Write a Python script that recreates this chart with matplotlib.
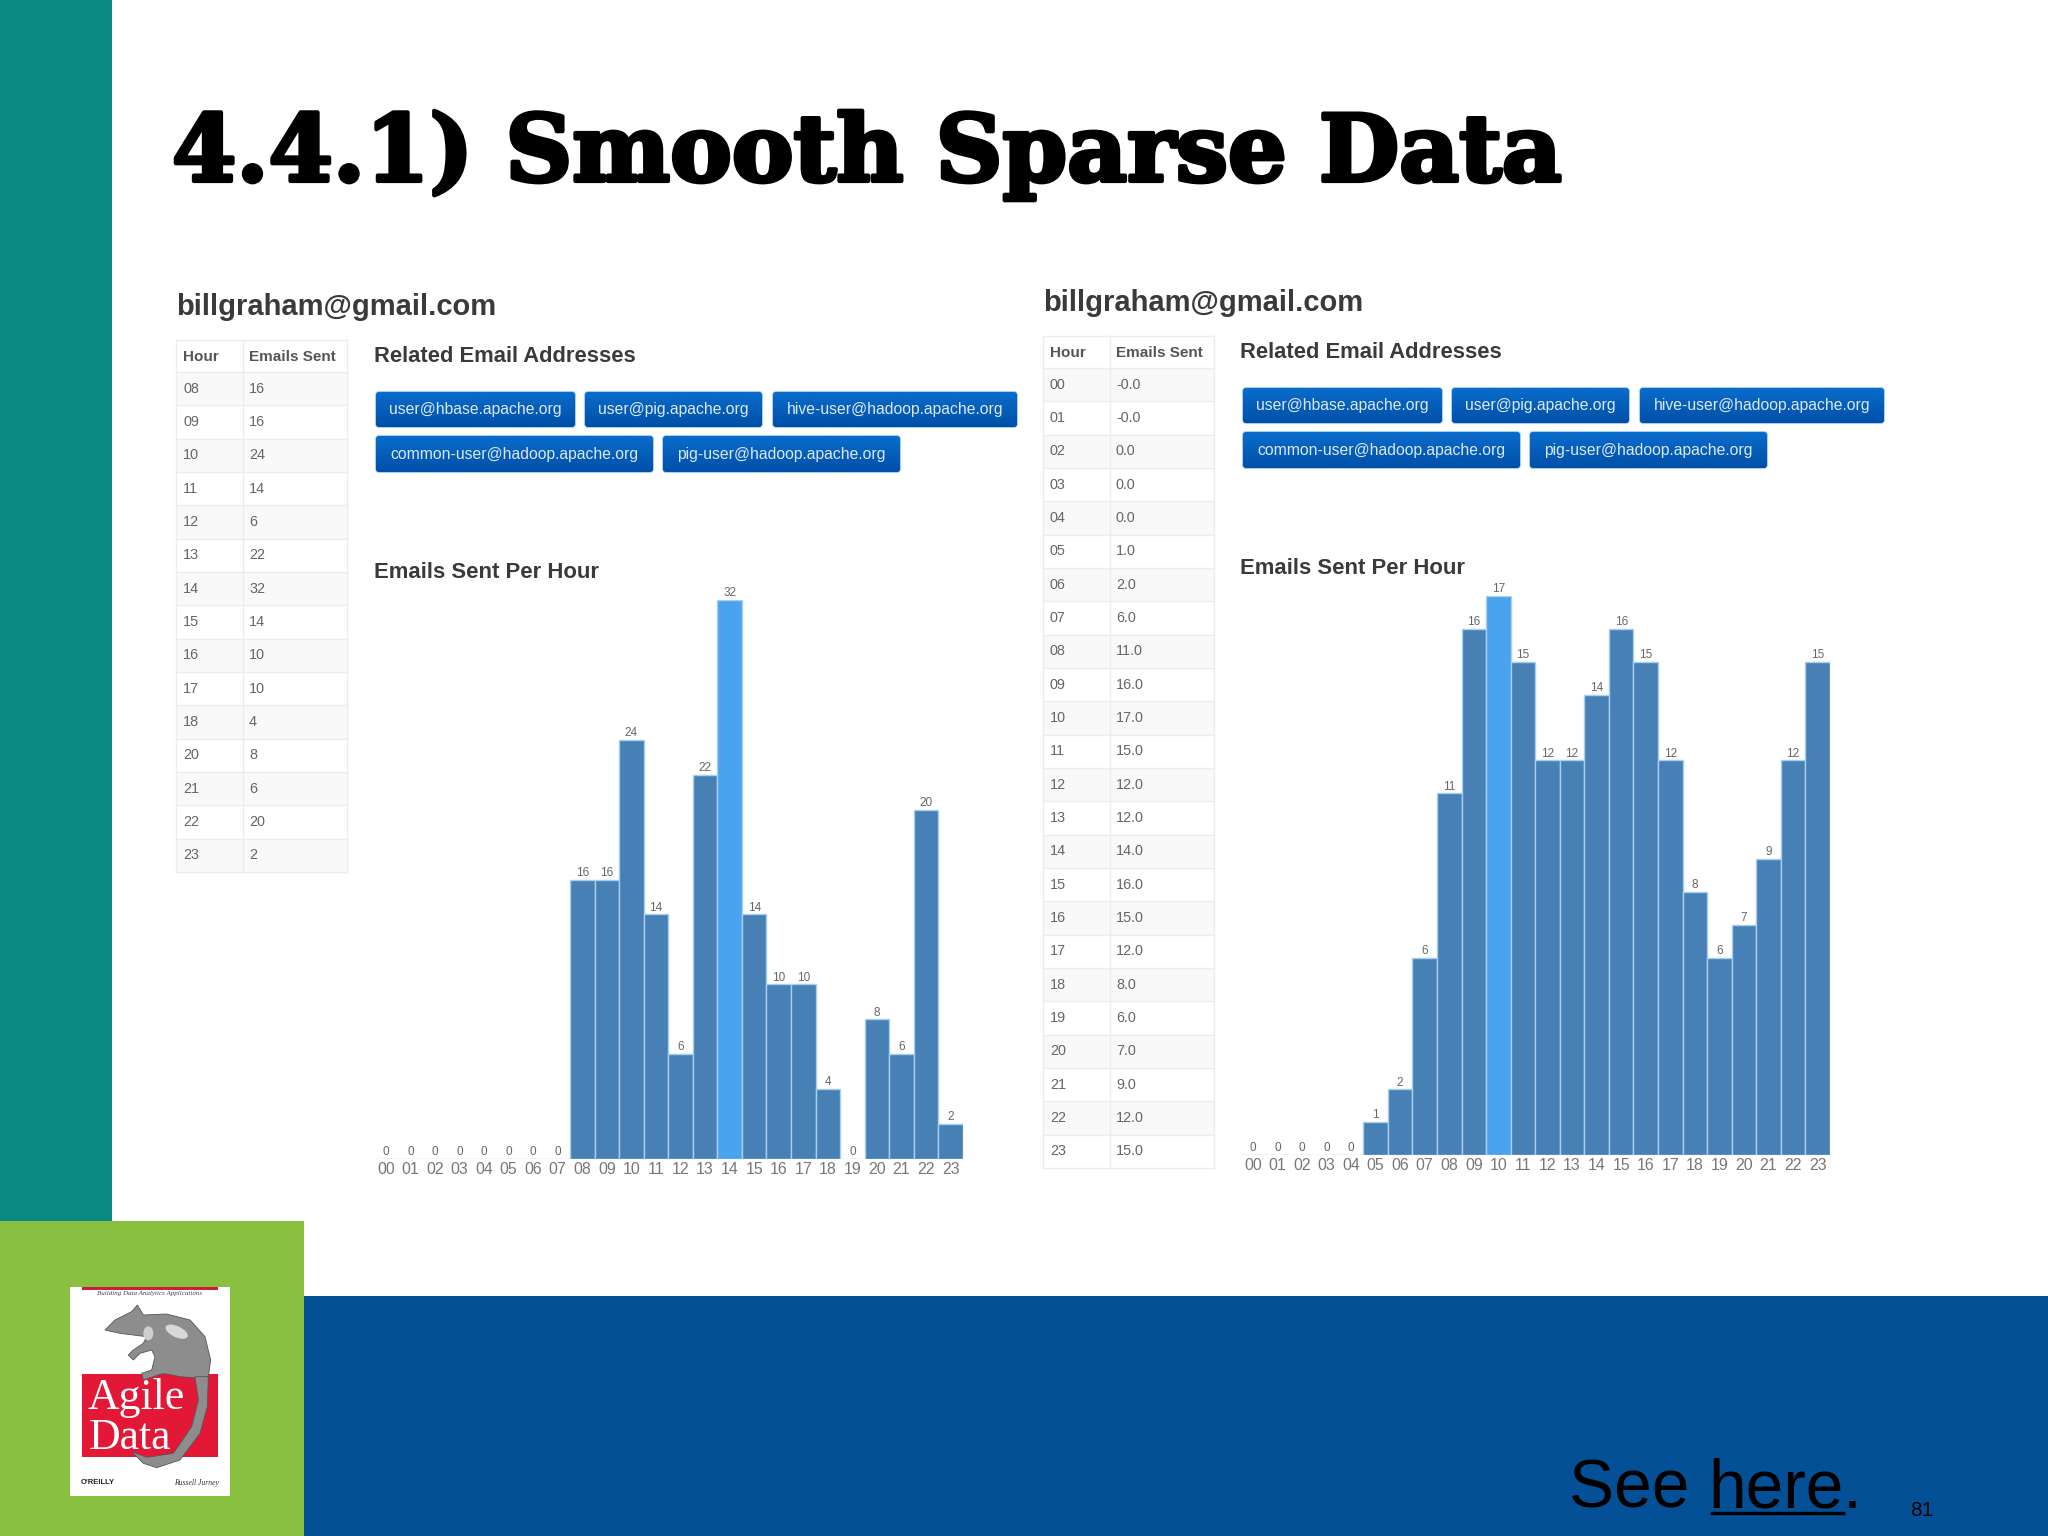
import matplotlib
matplotlib.use("Agg")
import matplotlib.pyplot as plt
import matplotlib.patheffects as pe
import numpy as np
from matplotlib.patches import Rectangle, FancyBboxPatch, Polygon, Ellipse

# ---- data ----
title_text = "4.4.1) Smooth Sparse Data"
email = "billgraham@gmail.com"
hours = [f"{h:02d}" for h in range(24)]
left_values = [0, 0, 0, 0, 0, 0, 0, 0, 16, 16, 24, 14, 6, 22, 32, 14, 10, 10, 4, 0, 8, 6, 20, 2]
right_values = [0, 0, 0, 0, 0, 1, 2, 6, 11, 16, 17, 15, 12, 12, 14, 16, 15, 12, 8, 6, 7, 9, 12, 15]
left_table_hours = ["08", "09", "10", "11", "12", "13", "14", "15", "16", "17", "18", "20", "21", "22", "23"]
left_table_vals = ["16", "16", "24", "14", "6", "22", "32", "14", "10", "10", "4", "8", "6", "20", "2"]
right_table_vals = ["-0.0", "-0.0", "0.0", "0.0", "0.0", "1.0", "2.0", "6.0", "11.0", "16.0", "17.0", "15.0",
                    "12.0", "12.0", "14.0", "16.0", "15.0", "12.0", "8.0", "6.0", "7.0", "9.0", "12.0", "15.0"]
related = ["user@hbase.apache.org", "user@pig.apache.org", "hive-user@hadoop.apache.org",
           "common-user@hadoop.apache.org", "pig-user@hadoop.apache.org"]

W, H = 2048, 1536
SANS = "Liberation Sans"
SERIF = "Liberation Serif"
fig = plt.figure(figsize=(W / 100, H / 100), dpi=100, facecolor="white")
bg = fig.add_axes([0, 0, 1, 1])
bg.set_xlim(0, W)
bg.set_ylim(H, 0)
bg.axis("off")

# ---- slide furniture ----
bg.add_patch(Rectangle((0, 0), 112, 1221, color="#0B8A84", lw=0))
bg.add_patch(Rectangle((304, 1296), W - 304, H - 1296, color="#035096", lw=0))
bg.add_patch(Rectangle((0, 1221), 304, H - 1221, color="#8AC040", lw=0))

bg.text(172, 181, title_text, family="DejaVu Serif", weight="bold", fontsize=66.6, color="black", va="baseline",
        path_effects=[pe.withStroke(linewidth=3, foreground="black")])

# ---- book cover ----
bg.add_patch(Rectangle((70, 1287), 160, 209, color="white", lw=0))
bg.add_patch(Rectangle((82, 1287), 136, 3, color="#C8203A", lw=0))
bg.add_patch(Rectangle((82, 1374), 136, 83, color="#E31837", lw=0))
bg.text(150, 1294, "Building Data Analytics Applications", family=SERIF, style="italic", fontsize=5,
        color="#444", ha="center", va="center")
body = [(315, 390), (345, 360), (395, 335), (412, 315), (430, 345), (500, 342), (570, 360), (615, 410), (632, 480),
        (625, 530), (600, 535), (540, 530), (490, 520), (430, 540), (425, 520), (455, 510), (465, 470), (455, 450),
        (420, 460), (400, 480), (385, 465), (400, 450), (430, 430), (440, 410), (400, 405), (360, 400)]
tail = [(625, 530), (622, 620), (600, 700), (540, 780), (470, 803), (430, 790), (395, 755), (440, 772), (520, 760),
        (575, 680), (595, 600), (585, 530)]
for shape in (body, tail):
    bg.add_patch(Polygon([(x / 3, 1200 + y / 3) for x, y in shape], closed=True, facecolor="#8d8d8d",
                         edgecolor="#555", lw=0.6, zorder=3))
bg.add_patch(Ellipse((530 / 3, 1200 + 395 / 3), 24, 11, angle=25, color="#d8d8d8", lw=0, zorder=3))
bg.add_patch(Ellipse((445 / 3, 1200 + 400 / 3), 10, 14, color="#cfcfcf", lw=0, zorder=3))
bg.text(88, 1409, "Agile", family=SERIF, fontsize=31.5, color="white", va="baseline", zorder=4)
bg.text(89, 1449, "Data", family=SERIF, fontsize=31.5, color="white", va="baseline", zorder=4)
bg.text(81, 1482, "O'REILLY", family=SANS, fontsize=5.5, color="#222", va="center", weight="bold")
bg.text(219, 1483, "Russell Jurney", family=SERIF, style="italic", fontsize=5.5, color="#333", ha="right", va="center")

# ---- footer text ----
bg.text(1569, 1508, "See ", family=SANS, fontsize=48.7, color="black", va="baseline")
bg.text(1708, 1508, "here", family=SANS, fontsize=48.7, color="black", va="baseline")
bg.text(1843, 1508, ".", family=SANS, fontsize=48.7, color="black", va="baseline")
bg.plot([1710, 1845], [1513, 1513], color="black", lw=2.4, solid_capstyle="butt")
bg.text(1922, 1510, "81", family=SANS, fontsize=15, color="black", ha="center", va="center")

grad = np.linspace(0, 1, 32).reshape(-1, 1)
cmap = matplotlib.colors.LinearSegmentedColormap.from_list("btn", ["#0A6CCB", "#0050A8"])


def button(x0, x1, y0, y1, text):
    box = FancyBboxPatch((x0 + 2, y0 + 2), x1 - x0 - 4, y1 - y0 - 4, boxstyle="round,pad=2,rounding_size=3",
                         facecolor="#0A5FBC", edgecolor="#7DBBEA", lw=1, zorder=2)
    bg.add_patch(box)
    im = bg.imshow(grad, extent=(x0, x1, y1, y0), cmap=cmap, aspect="auto", zorder=2.1)
    im.set_clip_path(box)
    bg.text((x0 + x1) / 2, (y0 + y1) / 2, text, family=SANS, fontsize=11.3, color="#DCE8F5",
            ha="center", va="center", zorder=3)


def panel(dx, dy, table_hours, table_vals, values, highlight, ymax, px_top):
    # heading
    bg.text(176 + dx, 307 + dy, email, family=SANS, weight="bold", fontsize=21, color="#3A3A3A", va="center")
    bg.text(373.5 + dx, 357 + dy, "Related Email Addresses", family=SANS, weight="bold", fontsize=15.8,
            color="#3A3A3A", va="center")
    bg.text(373.5 + dx, 572 + dy, "Emails Sent Per Hour", family=SANS, weight="bold", fontsize=15.9,
            color="#3A3A3A", va="center")

    # table
    xl, xm, xr = 176 + dx, 243 + dx, 347 + dx
    top, head, pitch = 340 + dy, 372 + dy, 33.33
    n = len(table_hours)
    line = "#EDEDED"
    for i in range(n):
        y = head + i * pitch
        if i % 2 == 0:
            bg.add_patch(Rectangle((xl, y), xr - xl, pitch, color="#F9F9F9", lw=0, zorder=1))
        bg.plot([xl, xr], [y, y], color=line, lw=1, zorder=1.5)
        bg.text(xl + 7, y + pitch / 2, table_hours[i], family=SANS, fontsize=10.4, color="#666", va="center")
        bg.text(xm + 6, y + pitch / 2, table_vals[i], family=SANS, fontsize=10.4, color="#666", va="center")
    bottom = head + n * pitch
    bg.plot([xl, xr], [bottom, bottom], color=line, lw=1, zorder=1.5)
    bg.plot([xl, xr], [top, top], color=line, lw=1, zorder=1.5)
    for x in (xl, xm, xr):
        bg.plot([x, x], [top, bottom], color=line, lw=1, zorder=1.5)
    bg.text(xl + 7, (top + head) / 2 + 1, "Hour", family=SANS, weight="bold", fontsize=11, color="#555", va="center")
    bg.text(xm + 6, (top + head) / 2 + 1, "Emails Sent", family=SANS, weight="bold", fontsize=11, color="#555", va="center")

    # buttons
    rows = [(376, 575, 392, 427), (585, 762, 392, 427), (773, 1017, 392, 427),
            (376, 653, 436, 472), (663, 900, 436, 472)]
    for (x0, x1, y0, y1), t in zip(rows, related):
        button(x0 + dx, x1 + dx, y0 + dy, y1 + dy, t)

    # bar chart
    bar_w = 24.56
    x0 = 373.5 + dx
    base = 1159 + dy
    ax = fig.add_axes([x0 / W, 1 - base / H, 24 * bar_w / W, (base - px_top) / H])
    ax.patch.set_alpha(0)
    colors = ["#4AA3EF" if i == highlight else "#4680B5" for i in range(24)]
    pos = np.arange(24)
    ax.bar(pos, values, width=1.0, color=colors, edgecolor="#A8CFEF", linewidth=1.0)
    ax.set_xlim(-0.5, 23.5)
    ax.set_ylim(0, ymax)
    for s in ax.spines.values():
        s.set_visible(False)
    ax.set_yticks([])
    ax.set_xticks(pos)
    ax.set_xticklabels(hours, family=SANS, fontsize=11.4, color="#777")
    ax.tick_params(axis="x", length=0, pad=2)
    for i, v in enumerate(values):
        ax.annotate(str(v), (i, v), xytext=(0, 0.5), textcoords="offset points", ha="center", va="bottom",
                    family=SANS, fontsize=8.5, color="#666", annotation_clip=False)


panel(0, 0, left_table_hours, left_table_vals, left_values, 14, 32, 600)
panel(867, -4, hours, right_table_vals, right_values, 10, 17, 596)

bg.set_xlim(0, W)
bg.set_ylim(H, 0)
fig.savefig("out.png", dpi=100, facecolor="white")
